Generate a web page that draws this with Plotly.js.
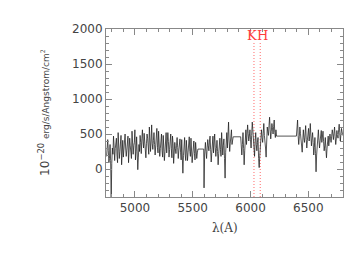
<!DOCTYPE html>
<html>
<head>
<meta charset="utf-8">
<script src="https://cdn.plot.ly/plotly-3.0.1.min.js"></script>
<style>html,body{margin:0;padding:0;background:#fff;}#chart{width:354px;height:274px;}</style>
</head>
<body>
<div id="chart"></div>
<script>
// Spectrum segments: start wavelength, step (Angstrom), flux values (1e-20 erg/s/A/cm^2)
var seg1Start = 4755, seg1Step = 5;
var seg1Flux = [180,310,420,260,90,150,350,120,-420,80,300,210,470,330,120,290,380,440,200,90,
  520,360,150,250,330,480,60,230,410,170,250,380,500,300,180,270,360,470,90,200,
  440,330,260,150,540,410,210,340,380,560,130,250,460,300,-10,170,350,250,480,380,
  220,430,560,390,300,510,420,290,160,360,500,440,330,210,600,470,250,400,630,360,
  280,410,520,350,200,330,450,580,310,230,540,390,180,290,400,500,260,170,480,350,
  120,250,390,520,230,330,520,390,170,280,420,500,290,160,470,360,80,210,380,290,
  220,340,450,310,150,270,360,430,240,130,420,250,-60,190,330,450,200,120,410,300,
  120,240,350,460,250,180,440,310,90,200,300,400,220,130,380,260,150,230,285];
var gapWave = [5595, 5598, 5603];
var gapFlux = [285, -270, 200];
var seg2Start = 5610, seg2Step = 5;
var seg2Flux = [380,250,150,300,420,330,260,400,470,280,100,230,390,470,230,350,500,310,180,290,
  410,250,60,220,350,440,280,180,520,400,200,340,430,150,-130,240,380,520,300,450,
  670,400,250,370,480,560,350,420,460];
var seg3Start = 5915, seg3Step = 5;
var seg3Flux = [460,380,200,350,520,290,60,260,450,560,350,480,630,510,400,470,560,420,300,480,
  670,560,380,250,180,400,520,350,260,380,450,150,20,190,300,470,560,450,380,510,
  650,480,420,300,170,420,600,530,480,620,740,560,430,540,650,590,500,610,700,520,
  450,560,470];
var seg4Start = 6397, seg4Step = 5;
var seg4Flux = [470,560,700,480,350,460,600,510,420,330,240,400,560,450,380,500,620,420,300,410,
  510,580,400,470,650,520,330,430,520,380,200,310,450,220,-40,200,380,480,560,410,
  300,400,470,550,380,440,540,390,260,330,450,290,160,300,400,470,330,420,500,440,
  380,470,560,500,420,510,600,460,350,430,550,480,440,560,640,520,400,490,580,530,480];

var lineNames = ["K", "H"];
var lineWaves = [6030, 6084];
var lineSpan = [-400, 1810];
var labelWaves = [6010, 6101];

var xTickVals = [5000, 5500, 6000, 6500];
var yTickVals = [0, 500, 1000, 1500, 2000];

function grid(start, step, vals) { return vals.map(function (v, i) { return start + i * step; }); }
var wave = [].concat(grid(seg1Start, seg1Step, seg1Flux), gapWave,
  grid(seg2Start, seg2Step, seg2Flux), grid(seg3Start, seg3Step, seg3Flux),
  grid(seg4Start, seg4Step, seg4Flux));
var flux = [].concat(seg1Flux, gapFlux, seg2Flux, seg3Flux, seg4Flux);

var traces = [];
lineWaves.forEach(function (w) {
  traces.push({x: [w, w], y: lineSpan, mode: 'lines', hoverinfo: 'skip',
    line: {color: '#ff6a6a', width: 1, dash: '1px,2px'}});
});
traces.push({x: wave, y: flux, mode: 'lines', line: {color: '#1c1c1c', width: 0.75}});

var tickFont = {family: 'DejaVu Sans', size: 12, color: '#444'};
var axisCommon = {showgrid: false, zeroline: false, showline: true, mirror: 'ticks',
  linecolor: '#888', linewidth: 1, ticks: 'inside', ticklen: 6, tickcolor: '#888', tickwidth: 1,
  tickfont: tickFont};
var minorCommon = {ticks: 'inside', ticklen: 3, tickcolor: '#888', tickwidth: 1, showgrid: false,
  dtick: 100, tick0: 0};

var annotations = [
  {xref: 'paper', yref: 'paper', x: 0.5, y: -0.185, text: 'λ(A)', showarrow: false,
    xanchor: 'center', yanchor: 'middle', font: {family: 'DejaVu Serif', size: 12, color: '#444'}},
  {xref: 'paper', yref: 'paper', x: -0.262, y: 0.506, textangle: -90, showarrow: false,
    xanchor: 'center', yanchor: 'middle',
    text: '10<sup>−20</sup> <span style="font-size:9px">erg/s/Angstrom/cm<sup>2</sup></span>',
    font: {family: 'DejaVu Sans', size: 12, color: '#444'}}
];
lineNames.forEach(function (n, i) {
  annotations.push({xref: 'x', yref: 'paper', x: labelWaves[i], y: (197 - 35) / 168, text: n,
    showarrow: false, xanchor: 'center', yanchor: 'middle',
    font: {family: 'DejaVu Serif', size: 13, color: '#ff3b3b'}});
});

var layout = {
  width: 354, height: 274,
  margin: {l: 106, r: 11, t: 29, b: 77, pad: 0},
  paper_bgcolor: '#fff', plot_bgcolor: '#fff',
  showlegend: false,
  xaxis: Object.assign({}, axisCommon, {range: [4750, 6800], tickvals: xTickVals, minor: minorCommon}),
  yaxis: Object.assign({}, axisCommon, {range: [-400, 2000], tickvals: yTickVals, minor: minorCommon}),
  annotations: annotations
};
Plotly.newPlot('chart', traces, layout, {staticPlot: true, displayModeBar: false});
</script>
</body>
</html>
